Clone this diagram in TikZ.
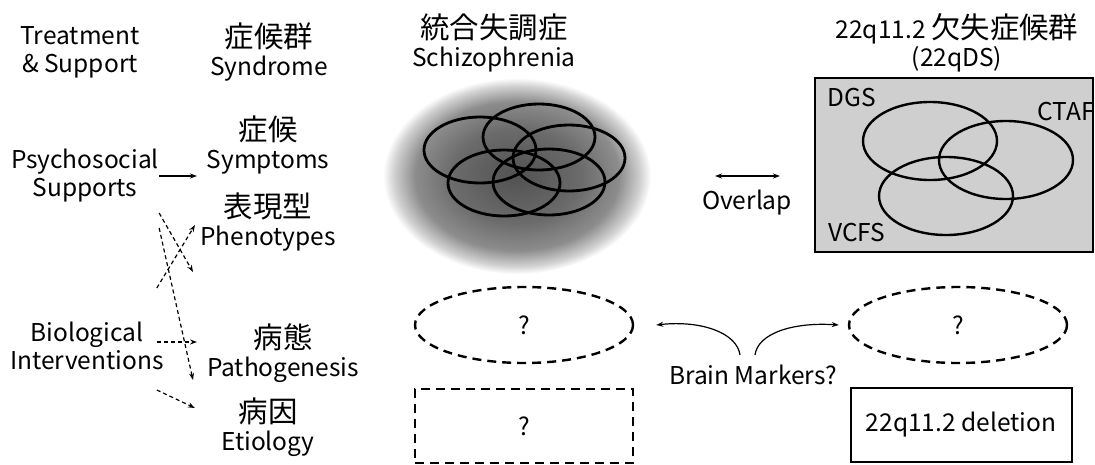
\documentclass[tikz,border=0pt]{standalone}
\usepackage{fontspec}
\setmainfont{Noto Sans CJK JP}
\newfontfamily\jp[Scale=1.2]{Noto Sans CJK JP}
\usepackage{tikz}
\usetikzlibrary{arrows.meta,shapes.geometric}
\tikzset{>={Stealth[length=7pt,width=5pt]}}
\tikzset{
  lbl/.style={align=center,inner sep=0pt,font=\fontsize{24.5}{28}\selectfont},
  qbox/.style={draw,dash pattern=on 9pt off 6pt,line width=2.4pt,inner sep=0pt,font=\fontsize{24.5}{28}\selectfont},
  darr/.style={->,dash pattern=on 4pt off 3pt,line width=1.2pt},
  ring/.style={line width=2.8pt}
}
\pgfdeclareradialshading{fog}{\pgfpoint{0bp}{0bp}}{color(0bp)=(black!68); color(12bp)=(black!58); color(19bp)=(black!45); color(23bp)=(black!18); color(25bp)=(white); color(50bp)=(white)}

\begin{document}
\begin{tikzpicture}[x=1pt,y=-1pt]
\useasboundingbox (0,0) rectangle (1095,464);

% ===== schizophrenia cloud =====
\shade[shading=fog] (517,176) ellipse [x radius=134, y radius=98];
\foreach \cx/\cy in {480/150,539/137,569/158,504/183,549/182}
  \draw[ring] (\cx,\cy) ellipse [x radius=56, y radius=33];

% ===== 22qDS box =====
\draw[line width=2.6pt,fill=black!19] (815,78) rectangle (1093,252);
\foreach \cx/\cy in {930/141,1006/160,946/196}
  \draw[line width=2.4pt] (\cx,\cy) ellipse [x radius=67, y radius=39];
\node[lbl] (dgs) at (852,98) {DGS};
\node[lbl] (ctaf) at (1066,112) {CTAF};
\node[lbl] (vcfs) at (857,233) {VCFS};

% ===== column heads =====
\node[lbl] (treat) at (80,52) {Treatment\\\& Support};
\node[lbl] (synd) at (269,52) {{\jp 症候群}\\Syndrome};
\node[lbl] (schz) at (494,43) {{\jp 統合失調症}\\Schizophrenia};
\node[lbl] (dels) at (957,43) {22q11.2 {\jp 欠失症候群}\\(22qDS)};

% ===== levels =====
\node[lbl] (psy) at (85,176) {Psychosocial\\Supports};
\node[lbl] (bio) at (87,346) {Biological\\Interventions};
\node[lbl] (symp) at (268,145) {{\jp 症候}\\Symptoms};
\node[lbl] (phen) at (268,222) {{\jp 表現型}\\Phenotypes};
\node[lbl] (path) at (283,353) {{\jp 病態}\\Pathogenesis};
\node[lbl] (etio) at (268,427) {{\jp 病因}\\Etiology};

\coordinate (t1) at (197,176);
\coordinate (t2) at (193,272);
\coordinate (t3) at (193,380);
\coordinate (t4) at (195,225);
\coordinate (t5) at (197,342);
\coordinate (t6) at (195,408);
\draw[->,line width=1.2pt] (psy.east) -- (t1);
\draw[darr] ([yshift=-37pt]psy.east) -- (t2);
\draw[darr] ([yshift=-52pt]psy.east) -- (t3);
\draw[darr] ([xshift=-7pt,yshift=58pt]bio.east) -- (t4);
\draw[darr] ([xshift=-7pt,yshift=4pt]bio.east) -- (t5);
\draw[darr] ([xshift=-7pt,yshift=-44pt]bio.east) -- (t6);

% ===== overlap =====
\node[lbl] (ovl) at (747,203) {Overlap};
\draw[<->,line width=1.2pt] ([xshift=-32pt,yshift=27pt]ovl.center) -- ([xshift=33pt,yshift=27pt]ovl.center);

% ===== unknowns =====
\node[qbox,ellipse,minimum width=218pt,minimum height=76pt] (scpath) at (524,325) {?};
\node[qbox,ellipse,minimum width=218pt,minimum height=76pt] (delpath) at (958,325) {?};
\node[qbox,rectangle,minimum width=218pt,minimum height=74pt] (scetio) at (524,426) {?};
\node[lbl,draw,line width=2pt,minimum width=221pt,minimum height=74pt] (deletion) at (961,425) {22q11.2 deletion};

\node[lbl] (bm) at (753,375) {Brain Markers?};
\draw[->,line width=1.2pt] ([xshift=-13pt,yshift=10pt]bm.north) .. controls +(-3,-22) and +(45,-5) .. ([xshift=22pt]scpath.east);
\draw[->,line width=1.2pt] ([xshift=2pt,yshift=10pt]bm.north) .. controls +(3,-22) and +(-45,-3) .. ([xshift=-9pt]delpath.west);

\end{tikzpicture}
\end{document}
